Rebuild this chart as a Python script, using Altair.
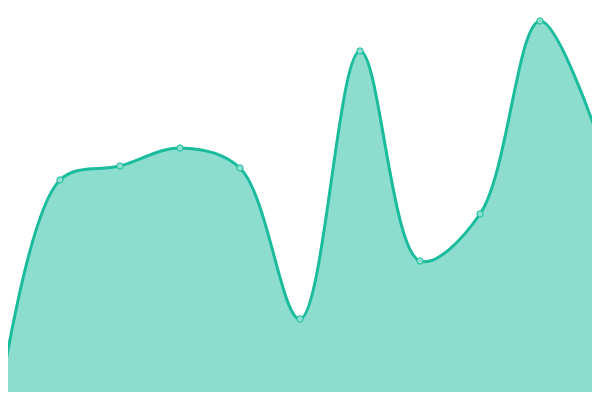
import altair as alt
import pandas as pd

idx = [0, 1, 2, 3, 4, 5, 6, 7, 8, 9, 10]
values = [2, 220, 234, 252, 232, 81, 349, 139, 186, 379, 257]

df = pd.DataFrame({"i": idx, "v": values})

xs = alt.Scale(domain=[8 / 60, 592 / 60], nice=False, zero=False)
ys = alt.Scale(domain=[8, 392], nice=False, zero=False)

base = alt.Chart(df).encode(
    x=alt.X("i:Q", scale=xs, axis=None),
    y=alt.Y("v:Q", scale=ys, axis=None),
)

area = base.mark_area(
    interpolate="catmull-rom",
    fill="#1abc9c",
    fillOpacity=0.5,
).encode(y2=alt.datum(0))

line = base.mark_line(
    interpolate="catmull-rom",
    stroke="#1abc9c",
    strokeWidth=3,
)

pts = base.mark_point(
    filled=True,
    size=40,
    fill="#8ce0d0",
    stroke="#1abc9c",
    strokeWidth=1,
    opacity=1,
)

chart = (
    alt.layer(area, line, pts)
    .properties(width=584, height=384, padding=0, autosize=alt.AutoSizeParams(type="none"))
    .configure_view(stroke=None)
)

chart.save("out.html", embed_options={"renderer": "svg", "actions": False})
